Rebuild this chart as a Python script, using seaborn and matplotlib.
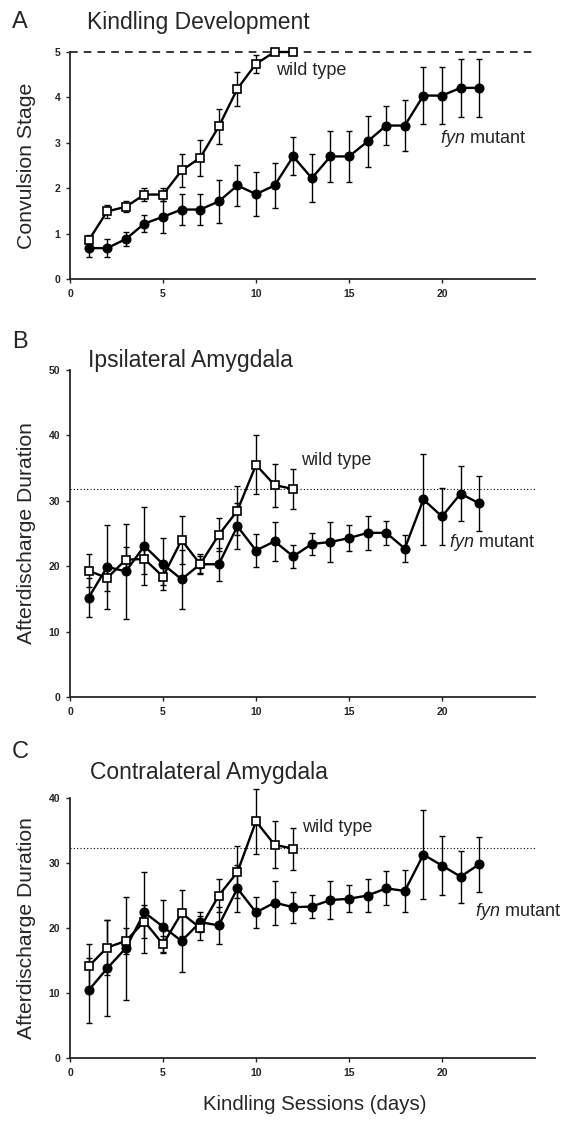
import matplotlib
matplotlib.use("Agg")
import numpy as np
import pandas as pd
import matplotlib.pyplot as plt
import seaborn as sns

# %% Data
days_wt = list(range(1, 13))
days_fyn = list(range(1, 23))

# A - Kindling development (convulsion stage)
stage_wt = [0.85, 1.49, 1.59, 1.86, 1.86, 2.39, 2.67, 3.36, 4.19, 4.74, 5.0, 5.0]
stage_wt_err = [0.13, 0.15, 0.12, 0.15, 0.15, 0.36, 0.40, 0.39, 0.37, 0.20, 0.0, 0.0]
stage_fyn = [0.68, 0.68, 0.88, 1.22, 1.37, 1.53, 1.53, 1.71, 2.06, 1.87, 2.06,
             2.70, 2.22, 2.70, 2.70, 3.03, 3.38, 3.38, 4.04, 4.04, 4.21, 4.21]
stage_fyn_err = [0.20, 0.20, 0.15, 0.18, 0.35, 0.34, 0.34, 0.48, 0.45, 0.48, 0.50,
                 0.42, 0.53, 0.56, 0.56, 0.57, 0.42, 0.56, 0.62, 0.62, 0.64, 0.64]

# B - Ipsilateral amygdala (afterdischarge duration)
ipsi_wt = [19.3, 18.2, 21.0, 21.1, 18.4, 24.0, 20.3, 24.8, 28.5, 35.5, 32.4, 31.8]
ipsi_wt_err = [2.5, 2.0, 2.0, 2.3, 1.3, 3.7, 1.5, 2.5, 3.7, 4.5, 3.3, 3.0]
ipsi_fyn = [15.2, 19.9, 19.2, 23.1, 20.3, 18.0, 20.3, 20.3, 26.1, 22.4, 23.8,
            21.5, 23.4, 23.7, 24.3, 25.1, 25.1, 22.7, 30.2, 27.6, 31.1, 29.6]
ipsi_fyn_err = [3.0, 6.4, 7.2, 6.0, 4.0, 4.5, 1.3, 2.5, 3.5, 2.5, 3.0,
                1.7, 1.7, 3.0, 2.0, 2.6, 1.8, 2.0, 7.0, 4.3, 4.2, 4.2]
ipsi_ref = 31.8

# C - Contralateral amygdala (afterdischarge duration)
contra_wt = [14.1, 17.0, 18.0, 21.0, 17.5, 22.3, 20.0, 25.0, 28.6, 36.4, 32.8, 32.2]
contra_wt_err = [3.4, 4.2, 2.0, 2.5, 1.2, 3.5, 1.8, 2.5, 4.0, 5.0, 3.6, 3.2]
contra_fyn = [10.4, 13.8, 16.9, 22.4, 20.2, 18.0, 20.9, 20.4, 26.1, 22.4, 23.9,
              23.2, 23.3, 24.3, 24.5, 25.0, 26.1, 25.7, 31.3, 29.6, 27.9, 29.8]
contra_fyn_err = [5.0, 7.4, 7.9, 6.2, 4.1, 4.8, 1.5, 2.8, 3.6, 2.4, 3.4,
                  2.4, 1.8, 2.9, 2.1, 2.6, 2.6, 3.2, 6.9, 4.5, 4.0, 4.2]
contra_ref = 32.3

# %% Style
sns.set_style("ticks")
plt.rcParams['font.family'] = ['Liberation Sans', 'DejaVu Sans']
plt.rcParams['mathtext.fontset'] = 'custom'
plt.rcParams['mathtext.it'] = 'Liberation Sans:italic'
plt.rcParams['mathtext.rm'] = 'Liberation Sans'

fig = plt.figure(figsize=(5.71, 11.21), dpi=100)

left, width = 70 / 571, 465 / 571
ax_a = fig.add_axes([left, 1 - 279 / 1121, width, 227 / 1121])
ax_b = fig.add_axes([left, 1 - 697 / 1121, width, 327 / 1121])
ax_c = fig.add_axes([left, 1 - 1058 / 1121, width, 260 / 1121])

ann_size = 13


def draw_panel(ax, wt, wt_err, fyn, fyn_err):
    df_fyn = pd.DataFrame({'day': days_fyn, 'value': fyn})
    df_wt = pd.DataFrame({'day': days_wt, 'value': wt})

    # error bars first, then lines + markers on top
    ax.errorbar(days_fyn, fyn, yerr=fyn_err, fmt='none', ecolor='black',
                elinewidth=1, capsize=2.5, capthick=1, zorder=2, clip_on=False)
    ax.errorbar(days_wt, wt, yerr=wt_err, fmt='none', ecolor='black',
                elinewidth=1, capsize=2.5, capthick=1, zorder=2, clip_on=False)

    sns.lineplot(data=df_fyn, x='day', y='value', ax=ax, color='black',
                 linewidth=1.7, marker='o', markersize=6.5,
                 markerfacecolor='black', markeredgecolor='black',
                 clip_on=False, zorder=3)
    sns.lineplot(data=df_wt, x='day', y='value', ax=ax, color='black',
                 linewidth=1.7, marker='s', markersize=5.5,
                 markerfacecolor='white', markeredgecolor='black',
                 markeredgewidth=1.2, clip_on=False, zorder=4)

    ax.set_xlim(0, 25)
    ax.set_xticks([0, 5, 10, 15, 20])
    ax.set_xlabel('')
    sns.despine(ax=ax)
    for side in ['left', 'bottom']:
        ax.spines[side].set_linewidth(1.3)
    ax.tick_params(direction='out', length=3, width=1, labelsize=7.5, pad=4)


def bold_ticks(ax):
    for lab in ax.get_xticklabels() + ax.get_yticklabels():
        lab.set_fontweight('bold')


# Panel A
draw_panel(ax_a, stage_wt, stage_wt_err, stage_fyn, stage_fyn_err)
ax_a.set_ylim(0, 5)
ax_a.set_yticks([0, 1, 2, 3, 4, 5])
ax_a.axhline(5, color='black', linestyle=(0, (5, 4)), linewidth=1.1, zorder=1, clip_on=False)
ax_a.set_ylabel('Convulsion Stage', fontsize=15.3)
ax_a.text(11.1, 4.6, 'wild type', fontsize=ann_size, va='center', ha='left')
ax_a.text(19.9, 3.1, r'$\it{fyn}$ mutant', fontsize=ann_size, va='center', ha='left')

# Panel B
draw_panel(ax_b, ipsi_wt, ipsi_wt_err, ipsi_fyn, ipsi_fyn_err)
ax_b.set_ylim(0, 50)
ax_b.set_yticks([0, 10, 20, 30, 40, 50])
ax_b.axhline(ipsi_ref, color='black', linestyle=(0, (1, 2)), linewidth=0.8, zorder=1)
ax_b.set_ylabel('Afterdischarge Duration', fontsize=15.2)
ax_b.text(12.4, 36.2, 'wild type', fontsize=ann_size, va='center', ha='left')
ax_b.text(20.4, 23.7, r'$\it{fyn}$ mutant', fontsize=ann_size, va='center', ha='left')

# Panel C
draw_panel(ax_c, contra_wt, contra_wt_err, contra_fyn, contra_fyn_err)
ax_c.set_ylim(0, 40)
ax_c.set_yticks([0, 10, 20, 30, 40])
ax_c.axhline(contra_ref, color='black', linestyle=(0, (1, 2)), linewidth=0.8, zorder=1)
ax_c.set_ylabel('Afterdischarge Duration', fontsize=15.2)
ax_c.text(12.5, 35.5, 'wild type', fontsize=ann_size, va='center', ha='left')
ax_c.text(21.8, 22.5, r'$\it{fyn}$ mutant', fontsize=ann_size, va='center', ha='left')

for ax in [ax_a, ax_b, ax_c]:
    bold_ticks(ax)
    ax.yaxis.set_label_coords(-0.073, 0.5)

# Panel letters and titles
fig.text(12 / 571, 1 - 22 / 1121, 'A', fontsize=17, va='center', ha='left')
fig.text(87 / 571, 1 - 23 / 1121, 'Kindling Development', fontsize=16.5, va='center', ha='left')
fig.text(12 / 571, 1 - 342 / 1121, 'B', fontsize=17, va='center', ha='left')
fig.text(88 / 571, 1 - 361 / 1121, 'Ipsilateral Amygdala', fontsize=16.5, va='center', ha='left')
fig.text(12 / 571, 1 - 752 / 1121, 'C', fontsize=17, va='center', ha='left')
fig.text(90 / 571, 1 - 772 / 1121, 'Contralateral Amygdala', fontsize=16.5, va='center', ha='left')

fig.text(315 / 571, 1 - 1105 / 1121, 'Kindling Sessions (days)', fontsize=14.7,
         va='center', ha='center')

plt.savefig("out.png", dpi=100)
